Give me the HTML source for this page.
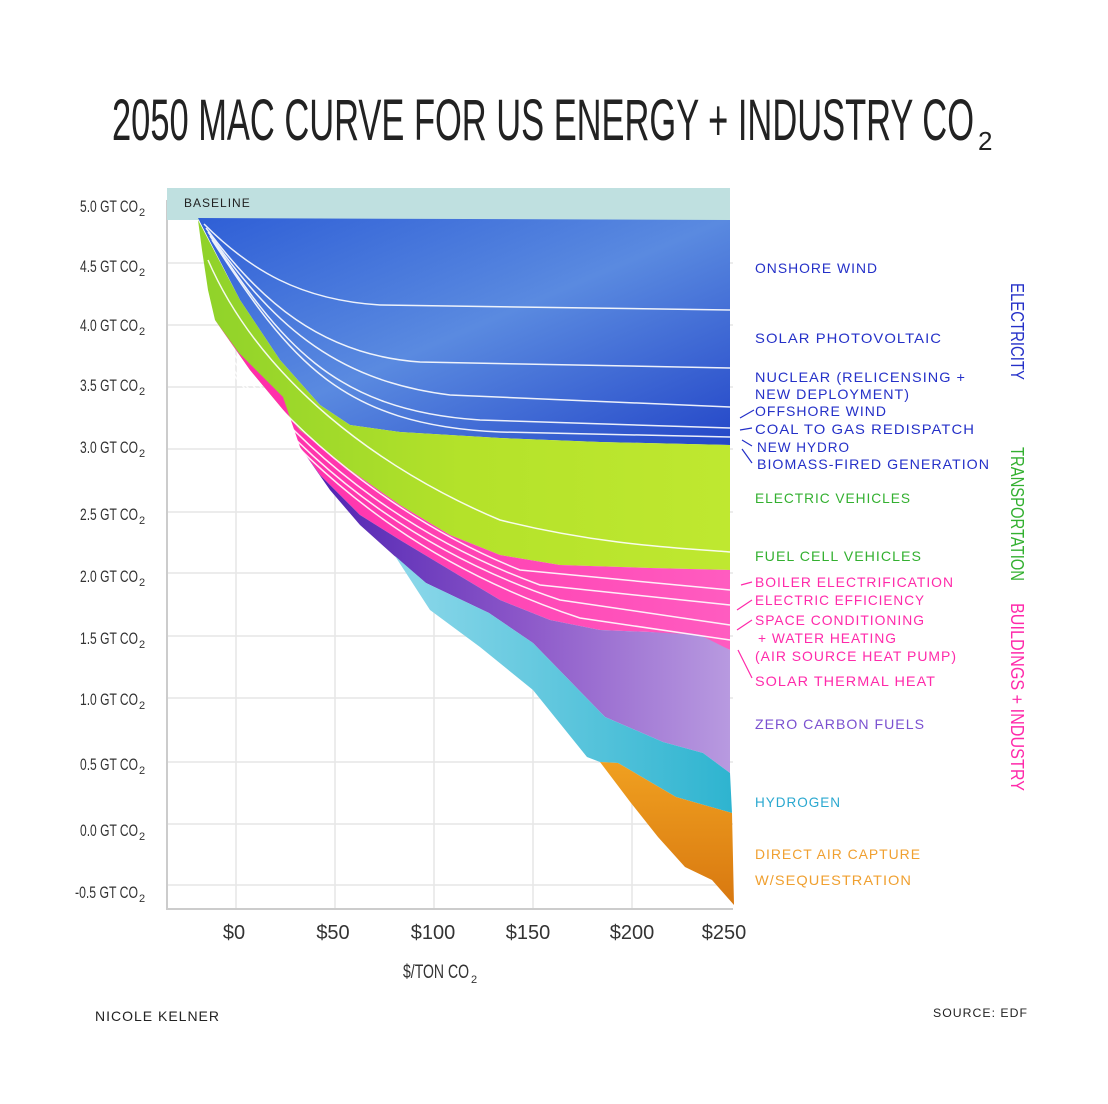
<!DOCTYPE html>
<html><head><meta charset="utf-8"><style>
html,body{margin:0;padding:0;background:#fff}
svg{display:block}
text{font-family:"Liberation Sans Narrow","Liberation Sans",sans-serif}
</style></head><body>
<svg width="1108" height="1104" viewBox="0 0 1108 1104" xmlns="http://www.w3.org/2000/svg">
<defs>
<linearGradient id="gb" x1="0" y1="0" x2="1" y2="1"><stop offset="0" stop-color="#2f5fd6"/><stop offset="0.5" stop-color="#5a8ae0"/><stop offset="1" stop-color="#2447c8"/></linearGradient>
<linearGradient id="gg" x1="0" y1="0" x2="1" y2="0"><stop offset="0" stop-color="#8fd22a"/><stop offset="0.5" stop-color="#b4e22a"/><stop offset="1" stop-color="#bfe830"/></linearGradient>
<linearGradient id="gp" x1="0" y1="0" x2="1" y2="0"><stop offset="0" stop-color="#ff2aa8"/><stop offset="1" stop-color="#ff5cc0"/></linearGradient>
<linearGradient id="gv" x1="0" y1="0" x2="1" y2="0"><stop offset="0" stop-color="#4a1fb0"/><stop offset="0.5" stop-color="#8a55c8"/><stop offset="1" stop-color="#b89ae0"/></linearGradient>
<linearGradient id="gc" x1="0" y1="0" x2="1" y2="0"><stop offset="0" stop-color="#8dd8ea"/><stop offset="1" stop-color="#2eb4d0"/></linearGradient>
<linearGradient id="go" x1="0" y1="0" x2="0" y2="1"><stop offset="0" stop-color="#f0a020"/><stop offset="1" stop-color="#d87810"/></linearGradient>
</defs>
<!-- title -->
<text x="112" y="140" font-size="58" textLength="862" lengthAdjust="spacingAndGlyphs" fill="#222" font-weight="normal">2050 MAC CURVE FOR US ENERGY + INDUSTRY CO</text>
<text x="978" y="150" font-size="26" fill="#222">2</text>
<!-- grid -->
<g stroke="#e6e6e6" stroke-width="1.5">
<line x1="167" y1="263" x2="733" y2="263"/><line x1="167" y1="325" x2="733" y2="325"/><line x1="167" y1="387" x2="733" y2="387"/><line x1="167" y1="449" x2="733" y2="449"/><line x1="167" y1="512" x2="733" y2="512"/><line x1="167" y1="573" x2="733" y2="573"/><line x1="167" y1="636" x2="733" y2="636"/><line x1="167" y1="698" x2="733" y2="698"/><line x1="167" y1="762" x2="733" y2="762"/><line x1="167" y1="824" x2="733" y2="824"/><line x1="167" y1="885" x2="733" y2="885"/>
<line x1="236" y1="200" x2="236" y2="909"/><line x1="335" y1="200" x2="335" y2="909"/><line x1="434" y1="200" x2="434" y2="909"/><line x1="533" y1="200" x2="533" y2="909"/><line x1="632" y1="200" x2="632" y2="909"/>
</g>
<polyline points="167,200 167,909 733,909" fill="none" stroke="#ccc" stroke-width="2"/>
<!-- baseline -->
<rect x="167" y="188" width="563" height="32" fill="#bfe0e0"/>
<text x="184" y="207" font-size="12" fill="#222" letter-spacing="1">BASELINE</text>
<!-- blue -->
<path d="M198,218 L730,220 L730,445 L600,442 L500,438 L400,432 L350,425 L320,405 L280,360 L240,300 Z" fill="url(#gb)"/>
<!-- green -->
<path d="M198,220 L240,300 L280,360 L320,405 L350,425 L400,432 L500,438 L600,442 L730,445 L730,570 L650,568 L560,565 L500,555 L450,535 L400,505 L350,470 L300,430 L250,370 L215,320 L208,290 L202,250 Z" fill="url(#gg)"/>
<!-- pink -->
<path d="M215,320 L250,370 L300,430 L350,470 L400,505 L450,535 L500,555 L560,565 L650,568 L730,570 L730,650 L700,637 L650,632 L600,630 L550,620 L500,600 L450,570 L400,540 L360,515 L320,475 L300,447 L283,397 L239,353 Z" fill="url(#gp)"/>
<!-- purple -->
<path d="M300,447 L320,475 L360,515 L400,540 L450,570 L500,600 L550,620 L600,630 L650,632 L700,635 L730,650 L730,773 L703,753 L663,742 L605,717 L533,643 L489,613 L426,583 L399,560 L360,525 L330,490 Z" fill="url(#gv)"/>
<!-- cyan -->
<path d="M395,556 L426,583 L489,613 L533,643 L605,717 L663,742 L703,753 L730,773 L732,813 L676,797 L618,763 L600,762 L587,757 L533,690 L480,647 L430,610 Z" fill="url(#gc)"/>
<!-- orange -->
<path d="M600,762 L618,763 L676,797 L732,813 L734,905 L712,880 L685,867 L658,837 L631,803 Z" fill="url(#go)"/>
<!-- white lines -->
<g fill="none" stroke="#fff" stroke-width="1.5" opacity="0.9">
<path d="M204,224 C250,270 300,300 380,305 L730,310"/>
<path d="M206,228 C260,300 320,355 420,362 L730,368"/>
<path d="M208,232 C270,320 330,380 450,395 L730,407"/>
<path d="M210,236 C280,340 330,410 480,420 L730,428"/>
<path d="M212,240 C290,360 340,425 500,432 L730,437"/>
<path d="M208,260 C260,380 380,470 500,520 C600,545 680,548 730,552"/>
<path d="M220,335 C300,450 420,530 520,570 L730,590"/>
<path d="M222,345 C310,470 430,545 540,585 L730,605"/>
<path d="M226,360 C320,485 440,560 560,600 L730,625"/>
<path d="M230,370 C330,500 450,575 580,618 L730,640"/>
</g>
<!-- y labels -->
<g font-size="17" fill="#333">
<text x="80" y="212" textLength="58" lengthAdjust="spacingAndGlyphs">5.0 GT CO</text>
<text x="80" y="272" textLength="58" lengthAdjust="spacingAndGlyphs">4.5 GT CO</text>
<text x="80" y="331" textLength="58" lengthAdjust="spacingAndGlyphs">4.0 GT CO</text>
<text x="80" y="391" textLength="58" lengthAdjust="spacingAndGlyphs">3.5 GT CO</text>
<text x="80" y="453" textLength="58" lengthAdjust="spacingAndGlyphs">3.0 GT CO</text>
<text x="80" y="520" textLength="58" lengthAdjust="spacingAndGlyphs">2.5 GT CO</text>
<text x="80" y="582" textLength="58" lengthAdjust="spacingAndGlyphs">2.0 GT CO</text>
<text x="80" y="644" textLength="58" lengthAdjust="spacingAndGlyphs">1.5 GT CO</text>
<text x="80" y="705" textLength="58" lengthAdjust="spacingAndGlyphs">1.0 GT CO</text>
<text x="80" y="770" textLength="58" lengthAdjust="spacingAndGlyphs">0.5 GT CO</text>
<text x="80" y="836" textLength="58" lengthAdjust="spacingAndGlyphs">0.0 GT CO</text>
<text x="75" y="898" textLength="63" lengthAdjust="spacingAndGlyphs">-0.5 GT CO</text>
</g>
<g font-size="11" fill="#333">
<text x="139" y="216">2</text><text x="139" y="276">2</text><text x="139" y="335">2</text><text x="139" y="395">2</text><text x="139" y="457">2</text><text x="139" y="524">2</text><text x="139" y="586">2</text><text x="139" y="648">2</text><text x="139" y="709">2</text><text x="139" y="774">2</text><text x="139" y="840">2</text><text x="139" y="902">2</text>
</g>
<!-- x labels -->
<g font-size="20" fill="#333" text-anchor="middle">
<text x="234" y="939">$0</text><text x="333" y="939">$50</text><text x="433" y="939">$100</text><text x="528" y="939">$150</text><text x="632" y="939">$200</text><text x="724" y="939">$250</text>
</g>
<text x="403" y="978" font-size="19" fill="#333" textLength="66" lengthAdjust="spacingAndGlyphs">$/TON CO</text>
<text x="471" y="983" font-size="11" fill="#333">2</text>
<!-- right labels -->
<g font-family="Liberation Sans" font-size="14" letter-spacing="1">
<g fill="#2430c8">
<text x="755" y="273" textLength="123" lengthAdjust="spacingAndGlyphs">ONSHORE WIND</text>
<text x="755" y="343" textLength="187" lengthAdjust="spacingAndGlyphs">SOLAR PHOTOVOLTAIC</text>
<text x="755" y="382" textLength="211" lengthAdjust="spacingAndGlyphs">NUCLEAR (RELICENSING +</text>
<text x="755" y="399" textLength="155" lengthAdjust="spacingAndGlyphs">NEW DEPLOYMENT)</text>
<text x="755" y="416" textLength="132" lengthAdjust="spacingAndGlyphs">OFFSHORE WIND</text>
<text x="755" y="434" textLength="220" lengthAdjust="spacingAndGlyphs">COAL TO GAS REDISPATCH</text>
<text x="757" y="452" textLength="93" lengthAdjust="spacingAndGlyphs">NEW HYDRO</text>
<text x="757" y="469" textLength="233" lengthAdjust="spacingAndGlyphs">BIOMASS-FIRED GENERATION</text>
</g>
<g fill="#33b030">
<text x="755" y="503" textLength="156" lengthAdjust="spacingAndGlyphs">ELECTRIC VEHICLES</text>
<text x="755" y="561" textLength="167" lengthAdjust="spacingAndGlyphs">FUEL CELL VEHICLES</text>
</g>
<g fill="#ff2aaa">
<text x="755" y="587" textLength="199" lengthAdjust="spacingAndGlyphs">BOILER ELECTRIFICATION</text>
<text x="755" y="605" textLength="170" lengthAdjust="spacingAndGlyphs">ELECTRIC EFFICIENCY</text>
<text x="755" y="625" textLength="170" lengthAdjust="spacingAndGlyphs">SPACE CONDITIONING</text>
<text x="758" y="643" textLength="139" lengthAdjust="spacingAndGlyphs">+ WATER HEATING</text>
<text x="755" y="661" textLength="202" lengthAdjust="spacingAndGlyphs">(AIR SOURCE HEAT PUMP)</text>
<text x="755" y="686" textLength="181" lengthAdjust="spacingAndGlyphs">SOLAR THERMAL HEAT</text>
</g>
<text x="755" y="729" fill="#7a50d0" textLength="170" lengthAdjust="spacingAndGlyphs">ZERO CARBON FUELS</text>
<text x="755" y="807" fill="#2aa8d0" textLength="86" lengthAdjust="spacingAndGlyphs">HYDROGEN</text>
<g fill="#f0a030">
<text x="755" y="859" textLength="166" lengthAdjust="spacingAndGlyphs">DIRECT AIR CAPTURE</text>
<text x="755" y="885" textLength="157" lengthAdjust="spacingAndGlyphs">W/SEQUESTRATION</text>
</g>
</g>
<!-- leader lines -->
<g stroke-width="1.2" fill="none">
<path d="M740,418 L754,410 M740,430 L752,428 M742,440 L752,446 M742,449 L752,463" stroke="#2430c8"/>
<path d="M741,585 L752,582 M737,610 L752,600 M737,630 L752,620 M738,650 L752,678" stroke="#ff2aaa"/>
</g>
<!-- vertical category labels -->
<g font-size="18">
<text transform="translate(1011,283) rotate(90)" fill="#2430c8" textLength="97" lengthAdjust="spacingAndGlyphs">ELECTRICITY</text>
<text transform="translate(1011,447) rotate(90)" fill="#33b030" textLength="134" lengthAdjust="spacingAndGlyphs">TRANSPORTATION</text>
<text transform="translate(1011,603) rotate(90)" fill="#ff2aaa" textLength="188" lengthAdjust="spacingAndGlyphs">BUILDINGS + INDUSTRY</text>
</g>
<!-- footer -->
<text x="95" y="1021" font-family="Liberation Sans" font-size="14" fill="#222" letter-spacing="1" textLength="125" lengthAdjust="spacingAndGlyphs">NICOLE KELNER</text>
<text x="933" y="1017" font-family="Liberation Sans" font-size="12" fill="#222" letter-spacing="1" textLength="95" lengthAdjust="spacingAndGlyphs">SOURCE: EDF</text>
</svg>
</body></html>
